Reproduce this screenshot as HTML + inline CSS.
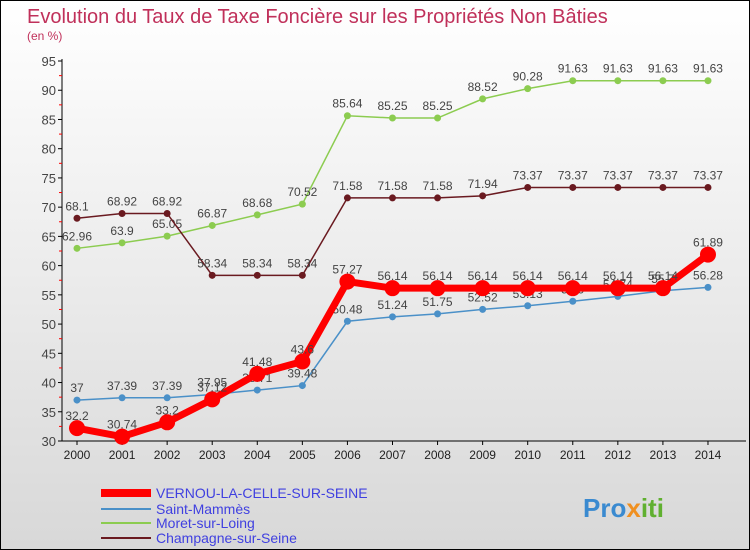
<!DOCTYPE html>
<html><head><meta charset="utf-8"><style>
body{margin:0}
#c{width:748px;height:548px;border:1px solid #000;background:linear-gradient(#fff,#d8d8d8);position:relative;overflow:hidden;font-family:"Liberation Sans",sans-serif}
</style></head><body>
<div id="c">
<svg id="s" width="748" height="548" style="position:absolute;left:0;top:0">
<text x="26" y="22" font-size="20" fill="#c0305a">Evolution du Taux de Taxe Foncière sur les Propriétés Non Bâties</text>
<text x="26" y="39" font-size="12" fill="#c0305a">(en %)</text>
<g id="axes"></g><g id="series"></g>
<g>
<line x1="100" y1="492" x2="150" y2="492" stroke="#f00" stroke-width="8"/>
<line x1="100" y1="508" x2="150" y2="508" stroke="#4a90c8" stroke-width="2"/>
<line x1="100" y1="522" x2="150" y2="522" stroke="#8ccc50" stroke-width="2"/>
<line x1="100" y1="537" x2="150" y2="537" stroke="#6a1a20" stroke-width="2"/>
<g font-size="14" fill="#4040e0">
<text x="155" y="497">VERNOU-LA-CELLE-SUR-SEINE</text>
<text x="155" y="513">Saint-Mammès</text>
<text x="155" y="527">Moret-sur-Loing</text>
<text x="155" y="542">Champagne-sur-Seine</text>
</g></g>
<text x="582" y="516" font-size="26" font-weight="bold" fill="#3a8ad0">Pro<tspan fill="#f09020">x</tspan><tspan fill="#60b030">iti</tspan></text>
</svg></div>
<script>
const years=[2000,2001,2002,2003,2004,2005,2006,2007,2008,2009,2010,2011,2012,2013,2014];
const vernou=[32.2,30.74,33.2,37.12,41.48,43.6,57.27,56.14,56.14,56.14,56.14,56.14,56.14,56.14,61.89];
const saint=[37,37.39,37.39,37.95,38.71,39.48,50.48,51.24,51.75,52.52,53.13,53.9,54.74,55.7,56.28];
const moret=[62.96,63.9,65.05,66.87,68.68,70.52,85.64,85.25,85.25,88.52,90.28,91.63,91.63,91.63,91.63];
const champ=[68.1,68.92,68.92,58.34,58.34,58.34,71.58,71.58,71.58,71.94,73.37,73.37,73.37,73.37,73.37];
const yTicks=[30,35,40,45,50,55,60,65,70,75,80,85,90,95];
const NS="http://www.w3.org/2000/svg";
const X=i=>76+i*45.07, Y=v=>440-(v-30)*5.846;
function mk(t,a,p){const e=document.createElementNS(NS,t);for(const k in a)e.setAttribute(k,a[k]);p.appendChild(e);return e;}
const ax=document.getElementById('axes');
let l=mk('line',{x1:61,y1:58,x2:61,y2:440,stroke:'#000'},ax);


l=mk('line',{x1:61,y1:440,x2:745,y2:440,stroke:'#000'},ax);


yTicks.forEach(v=>{mk('line',{x1:57,x2:61,y1:Y(v),y2:Y(v),stroke:'#000'},ax);
 if(v<95)mk('line',{x1:58,x2:61,y1:Y(v+2.5),y2:Y(v+2.5),stroke:'#f00'},ax);
 const t=mk('text',{x:55,y:Y(v)+5,'font-size':13,fill:'#444','text-anchor':'end'},ax);t.textContent=v;
 
 });
years.forEach((y,i)=>{mk('line',{x1:X(i),x2:X(i),y1:440,y2:444,stroke:'#000'},ax);
 const t=mk('text',{x:X(i),y:458,'font-size':12,fill:'#222','text-anchor':'middle'},ax);t.textContent=y;
 
 });
const sg=document.getElementById('series');
function draw(d,col,w,r,name){const g=mk('g',{},sg);
 
 
 mk('polyline',{points:d.map((v,i)=>X(i)+','+Y(v)).join(' '),fill:'none',stroke:col,'stroke-width':w},g);
 d.forEach((v,i)=>{const c=mk('circle',{cx:X(i),cy:Y(v),r:r,fill:col},g);
  
  
  const t=mk('text',{x:X(i),y:Y(v)-8,'font-size':12,fill:'#444','text-anchor':'middle'},g);t.textContent=v;});}
draw(moret,'#8ccc50',1.5,3.5,'series-moret');
draw(champ,'#6a1a20',1.5,3.5,'series-champagne');
draw(saint,'#4a90c8',1.5,3.5,'series-saint-mammes');
draw(vernou,'#f00',7,8,'series-vernou');
</script>
</body></html>
